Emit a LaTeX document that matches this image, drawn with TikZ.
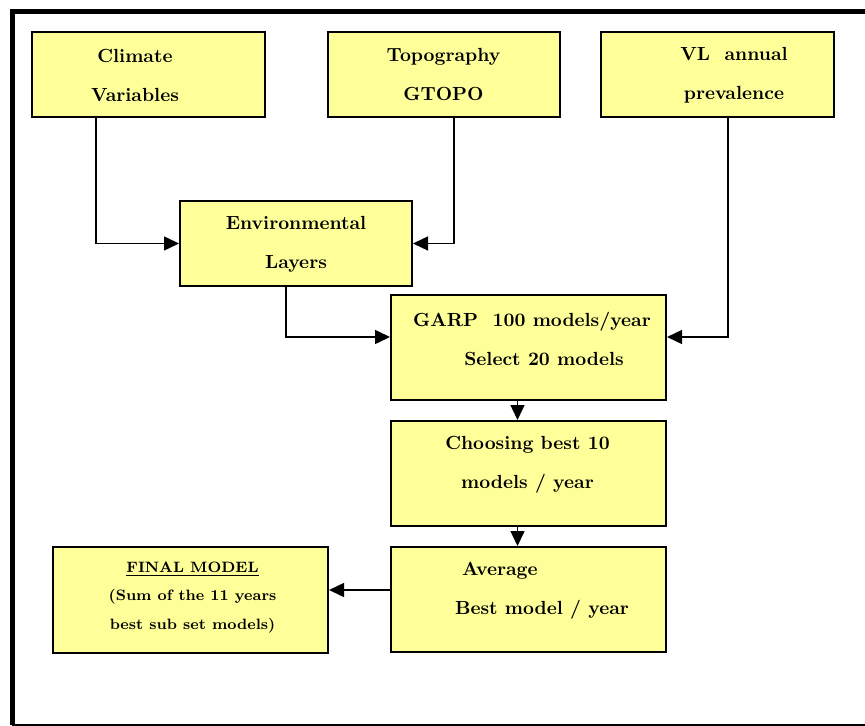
\documentclass[tikz,border=0pt]{standalone}
\usetikzlibrary{arrows.meta}
\definecolor{boxyellow}{RGB}{255,255,153}
\begin{document}
\begin{tikzpicture}[x=0.5pt, y=-0.5pt,
	box/.style={rectangle, draw, line width=1pt, fill=boxyellow, inner sep=0pt},
	txt/.style={font=\fontsize{9.5}{19.5}\selectfont\bfseries, align=center, inner sep=0pt},
	small/.style={font=\fontsize{7.5}{14.25}\selectfont\bfseries, align=center, inner sep=0pt},
	arr/.style={line width=0.75pt, -{Triangle[length=7.5pt, width=7pt]}}]
	\useasboundingbox (0,0) rectangle (865,726);
	\draw[line width=2.5pt] (12,725) -- (12,11.5) -- (865,11.5);
	\draw[line width=0.6pt] (12,725) -- (865,725);
	
	\node (clim) at (148.5,74.5) [box, minimum width=116.5pt, minimum height=42.5pt]{};
	\node (topo) at (444,74.5) [box, minimum width=116pt, minimum height=42.5pt]{};
	\node (vl) at (717.5,74.5) [box, minimum width=116.5pt, minimum height=42.5pt]{};
	\node (env) at (296,243.5) [box, minimum width=116pt, minimum height=42.5pt]{};
	\node (garp) at (528.5,347.5) [box, minimum width=137.5pt, minimum height=52.5pt]{};
	\node (choose) at (528.5,473.5) [box, minimum width=137.5pt, minimum height=52.5pt]{};
	\node (avg) at (528.5,599.5) [box, minimum width=137.5pt, minimum height=52.5pt]{};
	\node (final) at (190.5,600) [box, minimum width=137.5pt, minimum height=53pt]{};
	
	\node (climT) at (135,75.5) [txt]{Climate\\Variables};
	\node (topoT) at (443.5,74.5) [txt]{Topography\\GTOPO};
	\node (vlT) at (734,75.5) [txt]{VL\ \ annual\\prevalence};
	\node (envT) at (296,244.5) [txt]{Environmental\\Layers};
	\node (garpT) at (532,338.5) [txt]{GARP\ \ 100 models/year\\\hspace*{12pt}Select 20 models};
	\node (chooseT) at (527.5,464.5) [txt]{Choosing best 10\\models / year};
	\node (avgT) at (542,590.5) [txt, align=left]{\hspace*{3.5pt}Average\\Best model / year};
	\node (finalT) at (192.5,597.5) [small]{\underline{FINAL MODEL}\\(Sum of the 11 years\\best sub set models)};
	
	\coordinate (cx) at (96,0);
	\coordinate (tx) at (454,0);
	\coordinate (vx) at (728,0);
	\coordinate (ex) at (286,0);
	\coordinate (gx) at (517.5,0);
	\coordinate (r1) at (0,337);
	\coordinate (r2) at (0,590);
	
	\draw[arr] (clim.south -| cx) |- (env.west);
	\draw[arr] (topo.south -| tx) |- (env.east);
	\draw[arr] (vl.south -| vx) |- (garp.east |- r1);
	\draw[arr] (env.south -| ex) |- (garp.west |- r1);
	\draw[arr] (garp.south -| gx) -- (choose.north -| gx);
	\draw[arr] (choose.south -| gx) -- (avg.north -| gx);
	\draw[arr] (avg.west |- r2) -- (final.east |- r2);
	
\end{tikzpicture}
\end{document}
